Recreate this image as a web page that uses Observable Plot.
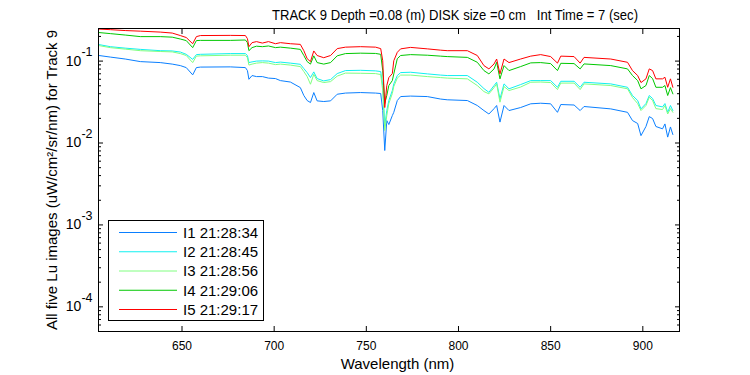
<!DOCTYPE html>
<html><head><meta charset="utf-8">
<script src="https://cdn.jsdelivr.net/npm/d3@7"></script>
<script src="https://cdn.jsdelivr.net/npm/@observablehq/plot@0.6"></script>
<style>
body{margin:0;background:#fff;}
#chart{width:750px;height:375px;}
svg text{white-space:pre;}
</style>
</head><body><div id="chart"></div>
<script>
const wavelengths = [605, 611.1, 619.2, 627.4, 638.2, 644.7, 649.1, 652.3, 655.8, 657.8, 660, 676.2, 684.4, 685.5, 686.3, 688, 690.4, 693.6, 696.9, 700.7, 703.4, 708.8, 714.2, 716.1, 717.9, 719.7, 721.5, 723.3, 726.9, 730.6, 734.2, 738.7, 746.9, 755, 757.8, 758.9, 760, 761.1, 762.2, 764.1, 764.9, 766.8, 768.6, 774, 783.1, 790.3, 793.9, 804.8, 810.2, 813.8, 816.5, 819.3, 820.7, 822.5, 824.7, 827.4, 833.7, 839.2, 844.6, 850, 853.7, 855.5, 862.7, 866, 868.1, 882.6, 891.7, 894.4, 897.2, 899, 901.7, 903.5, 905.3, 907.1, 910.7, 912, 913.5, 915, 916.3];

const I1 = [0.117, 0.112, 0.106, 0.0986, 0.0959, 0.0919, 0.0881, 0.0833, 0.0679, 0.0833,
  0.0845, 0.0850, 0.0833, 0.0766, 0.0600, 0.0666, 0.0647, 0.0647, 0.0620, 0.0612,
  0.0578, 0.0555, 0.0475, 0.0380, 0.0330, 0.0312, 0.0413, 0.0327, 0.0321, 0.0327,
  0.0394, 0.0407, 0.0413, 0.0407, 0.0402, 0.0249, 0.0081, 0.0188, 0.0168, 0.0216,
  0.0237, 0.0330, 0.0369, 0.0374, 0.0369, 0.0344, 0.0337, 0.0330, 0.0287, 0.0249,
  0.0226, 0.0263, 0.0287, 0.0180, 0.0287, 0.0249, 0.0271, 0.0301, 0.0306, 0.0301,
  0.0237, 0.0295, 0.0291, 0.0249, 0.0279, 0.0261, 0.0237, 0.0188, 0.0173, 0.0123,
  0.0159, 0.0210, 0.0199, 0.0159, 0.0149, 0.0171, 0.0118, 0.0157, 0.0127];

const I2 = [0.159, 0.150, 0.144, 0.139, 0.134, 0.133, 0.129, 0.121, 0.105, 0.120,
  0.121, 0.1235, 0.1235, 0.117, 0.0959, 0.0978, 0.100, 0.1006, 0.100, 0.0959,
  0.0972, 0.0945, 0.0914, 0.0810, 0.0724, 0.0629, 0.0738, 0.0612, 0.0573, 0.0595,
  0.0704, 0.0766, 0.0772, 0.0760, 0.0745, 0.0503, 0.0163, 0.0249, 0.0330, 0.0437,
  0.0527, 0.0666, 0.0724, 0.0731, 0.0698, 0.0675, 0.0666, 0.0666, 0.0552, 0.0462,
  0.0416, 0.0503, 0.0552, 0.0346, 0.0527, 0.0459, 0.0517, 0.0578, 0.0578, 0.0578,
  0.0479, 0.0567, 0.0567, 0.0479, 0.0552, 0.0527, 0.0479, 0.0380, 0.0330, 0.0261,
  0.0303, 0.0380, 0.0349, 0.0287, 0.0276, 0.0303, 0.0237, 0.0287, 0.0249];

const I3 = [0.1545, 0.146, 0.140, 0.134, 0.131, 0.1295, 0.1235, 0.117, 0.0959, 0.115,
  0.116, 0.118, 0.118, 0.110, 0.0894, 0.0919, 0.0945, 0.0959, 0.0945, 0.0906,
  0.0919, 0.0894, 0.0857, 0.0745, 0.0647, 0.0522, 0.0690, 0.0578, 0.0547, 0.0562,
  0.0656, 0.0714, 0.0710, 0.0704, 0.0685, 0.0437, 0.0142, 0.0216, 0.0303, 0.0402,
  0.0489, 0.0620, 0.0675, 0.0675, 0.0647, 0.0629, 0.0620, 0.0607, 0.0503, 0.0425,
  0.0398, 0.0475, 0.0527, 0.0315, 0.0489, 0.0437, 0.0482, 0.0552, 0.0555, 0.0547,
  0.0449, 0.0539, 0.0539, 0.0449, 0.0527, 0.0503, 0.0459, 0.0359, 0.0303, 0.0249,
  0.0287, 0.0362, 0.0330, 0.0263, 0.0256, 0.0287, 0.0226, 0.0263, 0.0237];

const I4 = [0.223, 0.2165, 0.208, 0.199, 0.199, 0.196, 0.186, 0.178, 0.146, 0.178,
  0.179, 0.179, 0.181, 0.168, 0.134, 0.146, 0.152, 0.150, 0.153, 0.146,
  0.148, 0.144, 0.139, 0.117, 0.0986, 0.0919, 0.116, 0.0959, 0.0919, 0.0959,
  0.116, 0.1235, 0.125, 0.124, 0.121, 0.0766, 0.0303, 0.0380, 0.0503, 0.0578,
  0.0698, 0.107, 0.117, 0.120, 0.118, 0.115, 0.1135, 0.111, 0.0967, 0.0766,
  0.0698, 0.0803, 0.0967, 0.0607, 0.0881, 0.0766, 0.0857, 0.0951, 0.0959, 0.0932,
  0.0766, 0.0940, 0.0932, 0.0803, 0.0924, 0.0881, 0.0803, 0.0666, 0.0578, 0.0459,
  0.0503, 0.0666, 0.0612, 0.0479, 0.0479, 0.0503, 0.0380, 0.0475, 0.0398];

const I5 = [0.246, 0.242, 0.236, 0.232, 0.226, 0.220, 0.205, 0.194, 0.163, 0.199,
  0.205, 0.206, 0.205, 0.188, 0.150, 0.168, 0.173, 0.166, 0.173, 0.163,
  0.168, 0.163, 0.160, 0.134, 0.107, 0.0986, 0.133, 0.117, 0.110, 0.117,
  0.142, 0.148, 0.150, 0.148, 0.142, 0.101, 0.0271, 0.0503, 0.0629, 0.0704,
  0.101, 0.128, 0.141, 0.147, 0.141, 0.136, 0.134, 0.134, 0.117, 0.0881,
  0.0803, 0.0924, 0.106, 0.0698, 0.106, 0.0959, 0.106, 0.115, 0.120, 0.1135,
  0.0945, 0.115, 0.1135, 0.0945, 0.111, 0.106, 0.0967, 0.0766, 0.0666, 0.0547,
  0.0607, 0.0803, 0.0766, 0.0607, 0.0607, 0.0635, 0.0479, 0.0607, 0.0479];

const seriesNames = ["I1 21:28:34", "I2 21:28:45", "I3 21:28:56", "I4 21:29:06", "I5 21:29:17"];
const seriesColors = ["#0a7fff", "#10f0f0", "#80ff80", "#00c800", "#ff0000"];

const xTicks = [650, 700, 750, 800, 850, 900];
const yMajorTicks = [1e-4, 1e-3, 1e-2, 1e-1];
const yTickExponents = ["-4", "-3", "-2", "-1"];
const yMinorTicks = [6e-5, 7e-5, 8e-5, 9e-5,
  2e-4, 3e-4, 4e-4, 5e-4, 6e-4, 7e-4, 8e-4, 9e-4,
  2e-3, 3e-3, 4e-3, 5e-3, 6e-3, 7e-3, 8e-3, 9e-3,
  2e-2, 3e-2, 4e-2, 5e-2, 6e-2, 7e-2, 8e-2, 9e-2,
  2e-1];

const titleText = "TRACK 9 Depth =0.08 (m) DISK size =0 cm   Int Time = 7 (sec)";
const xLabelText = "Wavelength (nm)";
const yLabelText = "All five Lu images (uW/cm\u00B2/sr/nm) for Track 9";

const series = [I1, I2, I3, I4, I5];
const rows = series.flatMap((vals, s) => wavelengths.map((w, i) => ({wl: w, lu: vals[i], name: seriesNames[s]})));

const font = '"Liberation Sans", Arial, Helvetica, sans-serif';

const chart = Plot.plot({
  width: 750, height: 375,
  marginLeft: 98, marginRight: 71, marginTop: 28, marginBottom: 44,
  style: {fontFamily: font, fontSize: "12px", background: "white", color: "black", overflow: "visible"},
  x: {domain: [604.7, 919.9]},
  y: {type: "log", domain: [5e-5, 0.25]},
  color: {domain: seriesNames, range: seriesColors},
  marks: [
    Plot.line(rows, {x: "wl", y: "lu", z: "name", stroke: "name", strokeWidth: 1, clip: true}),
    Plot.frame({stroke: "black", strokeWidth: 1}),
    Plot.axisX({anchor: "bottom", ticks: xTicks, tickSize: -5, tickPadding: 15, tickFormat: d => String(d), label: null, fontSize: 12}),
    Plot.axisX({anchor: "top", ticks: xTicks, tickSize: -5, tickFormat: () => "", label: null}),
    Plot.axisY({anchor: "left", ticks: yMajorTicks, tickSize: -5, tickPadding: 11, tickFormat: () => "10", label: null, fontSize: 14}),
    Plot.axisY({anchor: "right", ticks: yMajorTicks, tickSize: -5, tickFormat: () => "", label: null}),
    Plot.axisY({anchor: "left", ticks: yMinorTicks, tickSize: -3, tickFormat: () => "", label: null}),
    Plot.axisY({anchor: "right", ticks: yMinorTicks, tickSize: -3, tickFormat: () => "", label: null}),
    Plot.text([titleText], {text: d => d, frameAnchor: "top", textAnchor: "middle", dx: 66, dy: -9, lineAnchor: "bottom", fontSize: 14.5}),
    Plot.text([xLabelText], {text: d => d, frameAnchor: "bottom", textAnchor: "middle", dx: 8.5, dy: 37, lineAnchor: "bottom", fontSize: 15}),
    Plot.text([yLabelText], {text: d => d, frameAnchor: "left", textAnchor: "middle", rotate: -90, dx: -42, lineAnchor: "bottom", fontSize: 15})
  ]
});

document.getElementById("chart").appendChild(chart);

const svg = d3.select(chart);
const yLabelGroups = svg.selectAll('g[aria-label="y-axis tick label"]').nodes();
if (yLabelGroups.length) {
  d3.select(yLabelGroups[0]).selectAll("text").each(function(d, i) {
    const t = d3.select(this);
    t.text("10");
    t.append("tspan").attr("dy", "-0.75em").attr("font-size", "12.5px").text(yTickExponents[i]);
  });
}

// condense the title to the reference width
svg.selectAll('g[aria-label="text"] text').each(function() {
  if (this.textContent === titleText) {
    d3.select(this).attr("textLength", 366).attr("lengthAdjust", "spacingAndGlyphs");
  }
});

const lg = svg.append("g").attr("font-family", font).attr("font-size", 15).attr("fill", "black").attr("text-anchor", "start");
lg.append("rect").attr("x", 108.5).attr("y", 220.5).attr("width", 155).attr("height", 100)
  .attr("fill", "white").attr("stroke", "black");
seriesNames.forEach((name, i) => {
  const y = 232.5 + i * 19.25;
  lg.append("line").attr("x1", 119).attr("x2", 177).attr("y1", y).attr("y2", y).attr("stroke", seriesColors[i]);
  lg.append("text").attr("x", 183).attr("y", y).attr("dy", "0.35em").attr("text-anchor", "start").text(name);
});
</script>
</body></html>
